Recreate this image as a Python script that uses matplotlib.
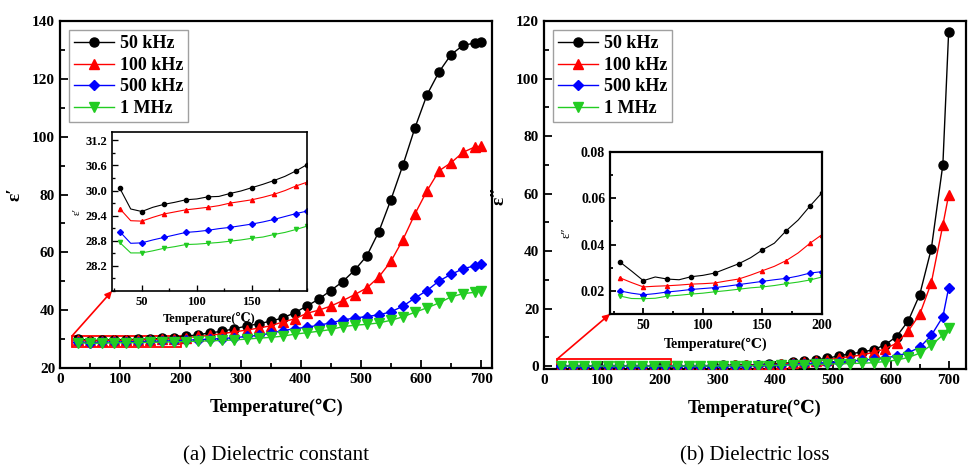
import numpy as np
import matplotlib
matplotlib.use('Agg')
import matplotlib.pyplot as plt
from matplotlib.patches import Rectangle
from matplotlib.ticker import MultipleLocator

plt.rcParams['font.family'] = ['Liberation Serif', 'DejaVu Serif']
plt.rcParams['mathtext.fontset'] = 'stix'

# main curves: temperature (C) at marker points
temp = [30, 50, 70, 90, 110, 130, 150, 170, 190, 210, 230, 250, 270, 290, 310, 330, 350,
        370, 390, 410, 430, 450, 470, 490, 510, 530, 550, 570, 590, 610, 630, 650, 670, 690, 700]

# dielectric constant
eps1_50k = [30.06, 29.50, 29.67, 29.78, 29.85, 29.93, 30.07, 30.24, 30.47, 31.0, 31.5, 32.2,
            32.7, 33.6, 34.5, 35.3, 36.2, 37.3, 39.1, 41.4, 43.8, 46.8, 49.9, 53.9, 58.8, 67.2,
            78.2, 90.2, 103.1, 114.5, 122.4, 128.4, 131.6, 132.4, 132.6]
eps1_100k = [29.57, 29.27, 29.44, 29.54, 29.60, 29.70, 29.78, 29.91, 30.11, 30.5, 30.9, 31.3,
             31.9, 32.5, 33.1, 33.8, 34.6, 35.9, 37.0, 38.9, 40.0, 41.4, 43.3, 45.4, 47.7, 51.5,
             56.9, 64.4, 73.3, 81.3, 88.2, 91.0, 94.6, 96.5, 96.7]
eps1_500k = [29.02, 28.75, 28.88, 29.0, 29.05, 29.12, 29.20, 29.31, 29.45, 29.6, 29.8, 30.0,
             30.2, 30.5, 30.9, 31.3, 32.0, 32.9, 33.6, 34.1, 34.8, 35.6, 36.6, 37.3, 37.8, 38.4,
             39.4, 41.4, 44.2, 46.8, 50.1, 52.4, 54.3, 55.4, 56.0]
eps1_1M = [28.76, 28.51, 28.62, 28.71, 28.74, 28.79, 28.86, 28.95, 29.07, 29.15, 29.3, 29.4,
           29.55, 29.7, 30.0, 30.3, 30.6, 31.0, 31.7, 32.2, 32.7, 33.3, 34.3, 34.8, 35.1, 35.6,
           36.5, 37.7, 39.3, 40.8, 42.5, 44.6, 45.7, 46.2, 46.8]

# dielectric loss
eps2_50k = [0.033, 0.024, 0.025, 0.026, 0.028, 0.032, 0.038, 0.046, 0.057, 0.07, 0.09, 0.12,
            0.16, 0.2, 0.26, 0.33, 0.42, 0.55, 0.7, 0.9, 1.3, 1.8, 2.2, 2.7, 3.6, 4.3, 4.9,
            5.7, 7.4, 10.3, 15.7, 24.9, 40.8, 70.1, 116.3]
eps2_100k = [0.026, 0.022, 0.022, 0.023, 0.023, 0.025, 0.029, 0.033, 0.041, 0.05, 0.06, 0.08,
             0.1, 0.13, 0.17, 0.22, 0.3, 0.4, 0.5, 0.7, 1.0, 1.5, 1.8, 2.2, 2.8, 3.3, 3.9,
             4.8, 6.0, 8.0, 12.2, 18.0, 29.0, 49.1, 59.5]
eps2_500k = [0.020, 0.018, 0.020, 0.021, 0.021, 0.023, 0.024, 0.025, 0.028, 0.03, 0.04, 0.05,
             0.06, 0.08, 0.1, 0.13, 0.17, 0.22, 0.3, 0.4, 0.6, 0.9, 1.0, 1.2, 1.5, 1.8, 2.1,
             2.4, 2.9, 3.5, 4.7, 6.5, 10.7, 17.2, 27.2]
eps2_1M = [0.018, 0.017, 0.018, 0.019, 0.020, 0.021, 0.022, 0.023, 0.025, 0.03, 0.03, 0.04,
           0.05, 0.06, 0.07, 0.09, 0.12, 0.15, 0.2, 0.27, 0.37, 0.5, 0.6, 0.7, 0.8, 0.9, 1.0,
           1.2, 1.6, 2.1, 3.0, 4.5, 7.3, 10.8, 13.4]

# inset data, 30-200 C every 10 C
temp_in = [30, 40, 50, 60, 70, 80, 90, 100, 110, 120, 130, 140, 150, 160, 170, 180, 190, 200]
in1_50k = [30.06, 29.56, 29.50, 29.60, 29.67, 29.72, 29.78, 29.80, 29.85, 29.86, 29.93, 29.99,
           30.07, 30.15, 30.24, 30.34, 30.47, 30.62]
in1_100k = [29.57, 29.28, 29.27, 29.36, 29.44, 29.49, 29.54, 29.57, 29.60, 29.64, 29.70, 29.74,
            29.78, 29.84, 29.91, 30.00, 30.11, 30.20]
in1_500k = [29.02, 28.74, 28.75, 28.82, 28.88, 28.94, 29.00, 29.02, 29.05, 29.09, 29.12, 29.16,
            29.20, 29.25, 29.31, 29.38, 29.45, 29.51]
in1_1M = [28.76, 28.51, 28.51, 28.56, 28.62, 28.66, 28.71, 28.72, 28.74, 28.76, 28.79, 28.82,
          28.86, 28.89, 28.95, 29.00, 29.07, 29.15]
in2_50k = [0.0326, 0.0286, 0.0244, 0.0260, 0.0251, 0.0248, 0.0261, 0.0267, 0.0277, 0.0297,
           0.0317, 0.0343, 0.0377, 0.0406, 0.0460, 0.0506, 0.0567, 0.0624]
in2_100k = [0.0257, 0.0236, 0.0217, 0.0220, 0.0222, 0.0225, 0.0229, 0.0231, 0.0234, 0.0243,
            0.0251, 0.0268, 0.0287, 0.0306, 0.0331, 0.0364, 0.0406, 0.0443]
in2_500k = [0.0200, 0.0190, 0.0183, 0.0188, 0.0195, 0.0200, 0.0206, 0.0210, 0.0214, 0.0220,
            0.0227, 0.0234, 0.0241, 0.0248, 0.0254, 0.0264, 0.0277, 0.0283]
in2_1M = [0.0178, 0.0167, 0.0166, 0.0168, 0.0177, 0.0181, 0.0186, 0.0190, 0.0196, 0.0201,
          0.0207, 0.0213, 0.0217, 0.0223, 0.0231, 0.0238, 0.0247, 0.0260]

labels = ['50 kHz', '100 kHz', '500 kHz', '1 MHz']
colors = ['black', '#ff0000', '#0000ff', '#22cc22']
markers = ['o', '^', 'D', 'v']
msizes = [6.5, 7, 5.5, 7]

fig = plt.figure(figsize=(9.68, 4.69), dpi=100)
W, H = 968, 469


def px_axes(x0, y0, x1, y1):
    return fig.add_axes([x0 / W, 1 - y1 / H, (x1 - x0) / W, (y1 - y0) / H])


def style(ax, lw=1.6, size=11, major=6, minor=3.5):
    for s in ax.spines.values():
        s.set_linewidth(lw)
    ax.tick_params(which='both', direction='in', top=False, right=False, width=lw * 0.8)
    ax.tick_params(which='major', length=major, labelsize=size)
    ax.tick_params(which='minor', length=minor)
    for t in ax.get_xticklabels() + ax.get_yticklabels():
        t.set_fontweight('bold')


ax1 = px_axes(60, 21, 492, 368)
ax2 = px_axes(544, 21, 966, 369)

for ax, series in [(ax1, [eps1_50k, eps1_100k, eps1_500k, eps1_1M]),
                   (ax2, [eps2_50k, eps2_100k, eps2_500k, eps2_1M])]:
    for ys, lab, c, m, ms in zip(series, labels, colors, markers, msizes):
        ax.plot(temp, ys, color=c, marker=m, markersize=ms, lw=1.0, label=lab, zorder=3)
    ax.set_xlabel('Temperature(℃)', fontsize=13, fontweight='bold', labelpad=9)
    ax.xaxis.set_major_locator(MultipleLocator(100))
    ax.xaxis.set_minor_locator(MultipleLocator(50))
    ax.yaxis.set_major_locator(MultipleLocator(20))
    ax.yaxis.set_minor_locator(MultipleLocator(10))
    leg = ax.legend(loc='upper left', prop={'weight': 'bold', 'size': 13}, frameon=True,
                    fancybox=False, edgecolor='#888888', handlelength=2.2, borderaxespad=0.5,
                    labelspacing=0.25, handletextpad=0.3, borderpad=0.3)
    leg.get_frame().set_linewidth(1.0)

ax1.set_xlim(0, 718)
ax1.set_ylim(20, 140)
ax2.set_xlim(0, 730)
ax2.set_ylim(-1, 120)
ax1.set_ylabel('ε′', fontsize=14, fontweight='bold', labelpad=6)
ax2.set_ylabel('ε″', fontsize=14, fontweight='bold', labelpad=6)
style(ax1)
style(ax2)

# zoom rectangles
ax1.add_patch(Rectangle((20.5, 27.2), 180, 4.0, fill=False, ec='#ff0000', lw=1.3, zorder=2))
ax2.add_patch(Rectangle((23, -1.1), 196, 3.6, fill=False, ec='#ff0000', lw=1.3, zorder=2))

# insets
in1 = px_axes(112, 132, 307, 291)
in2 = px_axes(610, 152, 822, 314)
mk_every = list(range(0, 18, 2)) + [17]
for ax, series in [(in1, [in1_50k, in1_100k, in1_500k, in1_1M]),
                   (in2, [in2_50k, in2_100k, in2_500k, in2_1M])]:
    for ys, c, m in zip(series, colors, markers):
        ax.plot(temp_in, ys, color=c, marker=m, markersize=3, lw=0.8, markevery=mk_every)
    ax.xaxis.set_minor_locator(MultipleLocator(25))

in1.set_xlabel('Temperature(℃)', fontsize=9, fontweight='bold', labelpad=3)
in2.set_xlabel('Temperature(℃)', fontsize=10, fontweight='bold', labelpad=4)
in1.set_xlim(23, 200)
in1.set_xticks([50, 100, 150])
in1.set_ylim(27.6, 31.4)
in1.set_yticks(np.arange(28.2, 31.3, 0.6))
in1.yaxis.set_minor_locator(MultipleLocator(0.3))
in1.set_ylabel('ε′', fontsize=8, labelpad=3)
in2.set_xlim(22, 200)
in2.set_xticks([50, 100, 150, 200])
in2.set_ylim(0.01, 0.08)
in2.set_yticks([0.02, 0.04, 0.06, 0.08])
in2.yaxis.set_minor_locator(MultipleLocator(0.01))
in2.set_ylabel('ε″', fontsize=9, labelpad=6)
style(in1, lw=1.2, size=9, major=4, minor=2.5)
style(in2, lw=1.6, size=10, major=4, minor=2.5)

# arrows from rectangles to insets
ax1.annotate('', xy=(0, 0), xycoords=in1.transAxes, xytext=(20.5, 31.2), textcoords='data',
             arrowprops=dict(arrowstyle='-|>', color='#ff0000', lw=1.2, mutation_scale=10,
                             shrinkA=0, shrinkB=0), zorder=6)
ax2.annotate('', xy=(0, 0), xycoords=in2.transAxes, xytext=(23, 2.5), textcoords='data',
             arrowprops=dict(arrowstyle='-|>', color='#ff0000', lw=1.2, mutation_scale=10,
                             shrinkA=0, shrinkB=0), zorder=6)

fig.text(276 / W, 1 - 456 / H, '(a) Dielectric constant', ha='center', va='center', fontsize=15)
fig.text(755 / W, 1 - 456 / H, '(b) Dielectric loss', ha='center', va='center', fontsize=15)

fig.savefig('out.png', dpi=100)
